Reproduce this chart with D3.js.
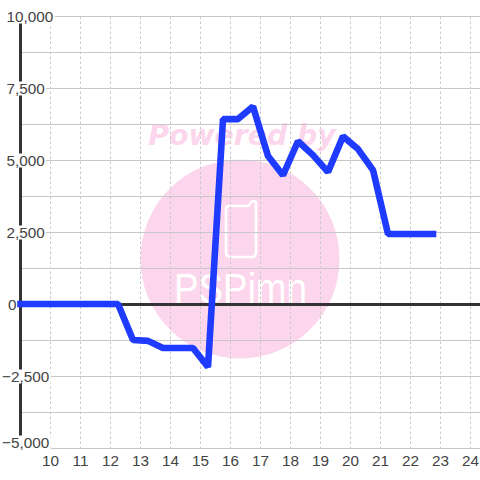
<!DOCTYPE html>
<html><head><meta charset="utf-8">
<script src="https://cdn.jsdelivr.net/npm/d3@7/dist/d3.min.js"></script>
<style>html,body{margin:0;padding:0;background:#fff}svg{display:block}text{font-family:"Liberation Sans",Arial,sans-serif}</style>
</head><body><svg id="c" width="480" height="480"></svg>
<script>
const hours = [9.25,9.75,10.25,10.75,11.25,11.75,12.25,12.75,13.25,13.75,14.25,14.75,15.25,15.75,16.25,16.75,17.25,17.75,18.25,18.75,19.25,19.75,20.25,20.75,21.25,21.75,22.25,22.75];
const values = [0,0,0,0,0,0,0,-1250,-1280,-1530,-1530,-1530,-2190,6420,6420,6860,5140,4470,5650,5170,4580,5820,5380,4650,2430,2430,2430,2430];
const lineStart = [9,0];
const yTicks = [10000,7500,5000,2500,0,-2500,-5000];
const yMinor = [8750,6250,3750,1250,-1250,-3750];
const xTicks = [10,11,12,13,14,15,16,17,18,19,20,21,22,23,24];
const wmTop = "Powered by";
const wmBottom = "PSPimn";

const x = d3.scaleLinear().domain([10,24]).range([50.5,470.5]);
const y = d3.scaleLinear().domain([10000,-5000]).range([16.5,448.5]);
const svg = d3.select("#c");
svg.append("rect").attr("width",480).attr("height",480).attr("fill","#fff");

// watermark
const pink="#fbd6ec";
svg.append("circle").attr("cx",240).attr("cy",259).attr("r",99.5).attr("fill",pink);
svg.append("text").attr("x",242).attr("y",145).attr("text-anchor","middle")
  .attr("font-size",28.3).attr("font-weight","bold").attr("font-style","italic")
  .style("font-family","'DejaVu Sans'").attr("fill",pink).text(wmTop);
svg.append("path").attr("d","M229 206 H247 Q249 206 250 204 Q251 201 254 201 Q256 201 256 204 V252 Q256 257 251 257 H231 Q226 257 226 252 V209 Q226 206 229 206 Z")
  .attr("fill","none").attr("stroke","#fff").attr("stroke-width",2.6);
svg.append("text").attr("x",174).attr("y",303).attr("font-size",43)
  .attr("textLength",133).attr("lengthAdjust","spacingAndGlyphs")
  .attr("fill","#fff").text(wmBottom);

// grids
svg.append("g").selectAll("line").data(xTicks).join("line")
  .attr("x1",d=>x(d)).attr("x2",d=>x(d)).attr("y1",y(10000)).attr("y2",y(-5000))
  .attr("stroke","#c8c8c8").attr("stroke-width",1).attr("stroke-dasharray","2.5,2.5");
svg.append("g").selectAll("line").data(yTicks.concat(yMinor)).join("line")
  .attr("x1",20).attr("x2",480).attr("y1",d=>y(d)).attr("y2",d=>y(d))
  .attr("stroke","#c8c8c8").attr("stroke-width",1);

// axes
const axisX=x(9);
svg.append("line").attr("x1",axisX).attr("x2",axisX).attr("y1",y(10000)).attr("y2",y(-5000))
  .attr("stroke","#333").attr("stroke-width",3);
svg.append("line").attr("x1",axisX).attr("x2",480).attr("y1",y(0)).attr("y2",y(0))
  .attr("stroke","#333").attr("stroke-width",3);

// y labels on white plates
const yFmt=d3.format(",");
const yg=svg.append("g").selectAll("g").data(yTicks).join("g");
yg.each(function(d){
  const g=d3.select(this);
  const startX = d===0?8:(d<0?2:6.5);
  const cy = d===-5000 ? y(d)-6 : y(d);
  const t=g.append("text").attr("x",startX).attr("y",cy+5.5).attr("font-size",15.3).attr("fill","#444").text(yFmt(d));
  const b=t.node().getBBox();
  g.insert("rect","text").attr("x",0).attr("y",cy-7).attr("width",b.x+b.width+1.5).attr("height",14).attr("fill","#fff");
});
// x labels
svg.append("g").selectAll("text").data(xTicks).join("text")
  .attr("x",d=>x(d)).attr("y",466).attr("text-anchor","middle").attr("font-size",15.3).attr("fill","#444").text(d=>d);

// series
const pts=[lineStart].concat(hours.map((h,i)=>[h,values[i]]));
svg.append("path").datum(pts).attr("fill","none").attr("stroke","#1f3bff").attr("stroke-width",6.6)
  .attr("stroke-linejoin","bevel").attr("stroke-linecap","square")
  .attr("d",d3.line().x(d=>x(d[0])).y(d=>y(d[1])-0.5));
</script></body></html>
